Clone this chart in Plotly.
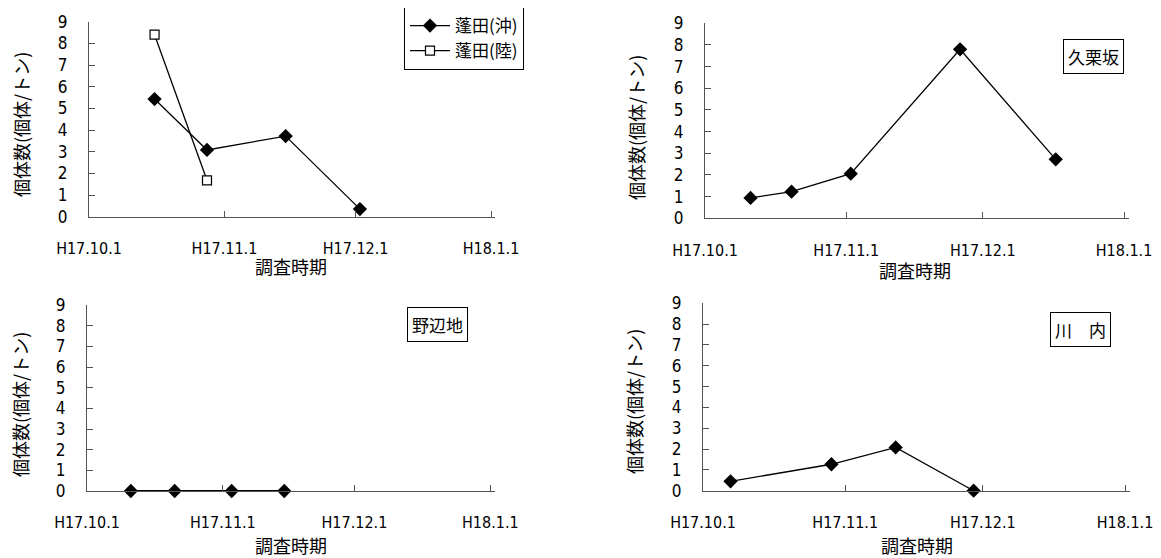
import plotly.graph_objects as go

# ---- data ----
tick_dates = ["2005-10-01", "2005-11-01", "2005-12-01", "2006-01-01"]
tick_labels = ["H17.10.1", "H17.11.1", "H17.12.1", "H18.1.1"]
y_ticks = [0, 1, 2, 3, 4, 5, 6, 7, 8, 9]

oki_dates = ["2005-10-16", "2005-10-28", "2005-11-15", "2005-12-02"]
oki_vals = [5.43, 3.08, 3.72, 0.35]
riku_dates = ["2005-10-16", "2005-10-28"]
riku_vals = [8.4, 1.68]
kuri_dates = ["2005-10-11", "2005-10-20", "2005-11-02", "2005-11-26", "2005-12-17"]
kuri_vals = [0.94, 1.23, 2.06, 7.8, 2.72]
nohe_dates = ["2005-10-11", "2005-10-21", "2005-11-03", "2005-11-15"]
nohe_vals = [0, 0, 0, 0]
kawa_dates = ["2005-10-07", "2005-10-29", "2005-11-12", "2005-11-29"]
kawa_vals = [0.45, 1.27, 2.08, 0]

x_title = "調査時期"
y_title = "個体数(個体/トン)"
site_labels = ["久栗坂", "野辺地", "川　内"]
legend_names = ["蓬田(沖)", "蓬田(陸)"]

W, H = 1161, 558
OFF = 8  # page body margin
NUM_FONT = "Liberation Sans Narrow, DejaVu Sans Condensed, Arial, sans-serif"
JP_FONT = "Noto Sans CJK JP, sans-serif"
AX_COLOR = "#555555"


def px_x(p):
    return (p - OFF) / W


def px_y(p):
    return 1 - (p - OFF) / H


fig = go.Figure()

diamond = dict(symbol="diamond", size=11, color="black")
line_style = dict(color="black", width=1.3)

fig.add_trace(go.Scatter(x=oki_dates, y=oki_vals, mode="lines+markers", name=legend_names[0],
                         marker=diamond, line=line_style, xaxis="x", yaxis="y"))
fig.add_trace(go.Scatter(x=riku_dates, y=riku_vals, mode="lines+markers", name=legend_names[1],
                         marker=dict(symbol="square", size=9, color="white",
                                     line=dict(color="black", width=1.2)),
                         line=line_style, xaxis="x", yaxis="y"))
fig.add_trace(go.Scatter(x=kuri_dates, y=kuri_vals, mode="lines+markers", showlegend=False,
                         marker=diamond, line=line_style, xaxis="x2", yaxis="y2"))
fig.add_trace(go.Scatter(x=nohe_dates, y=nohe_vals, mode="lines+markers", showlegend=False,
                         marker=diamond, line=dict(color="black", width=2), xaxis="x3", yaxis="y3"))
fig.add_trace(go.Scatter(x=kawa_dates, y=kawa_vals, mode="lines+markers", showlegend=False,
                         marker=diamond, line=line_style, xaxis="x4", yaxis="y4"))
for tr in fig.data:
    tr.cliponaxis = False

# panel geometry in pixels: (x_left, x_end, y_top, y_bottom)
panels = [
    (89, 495.4, 21.7, 216.7),
    (705, 1128.6, 23.3, 218.3),
    (87, 494.7, 305, 491),
    (703, 1129.6, 303.3, 490.7),
]

layout = dict(
    width=W, height=H, autosize=False,
    margin=dict(l=0, r=0, t=0, b=0, autoexpand=False),
    paper_bgcolor="white", plot_bgcolor="white",
    showlegend=True,
    legend=dict(x=px_x(404), y=px_y(7), xanchor="left", yanchor="top",
                bordercolor="black", borderwidth=1, bgcolor="white",
                font=dict(family=JP_FONT, size=17, color="black"),
                tracegroupgap=0, itemwidth=40),
)

annotations = []
for i, (xl, xe, yt, yb) in enumerate(panels):
    suf = "" if i == 0 else str(i + 1)
    layout["xaxis" + suf] = dict(
        type="date", domain=[px_x(xl), px_x(xe)],
        range=["2005-10-01", "2006-01-02"],
        tickvals=tick_dates, ticktext=tick_labels,
        ticks="inside", ticklen=6, tickcolor=AX_COLOR, tickwidth=1,
        showline=True, linecolor=AX_COLOR, linewidth=1,
        showgrid=False, zeroline=False, automargin=False,
        anchor="y" + suf, ticklabelstandoff=17,
        tickfont=dict(family=NUM_FONT, size=16, color="black"),
    )
    layout["yaxis" + suf] = dict(
        domain=[px_y(yb), px_y(yt)], range=[0, 9],
        tickvals=y_ticks, ticks="inside", ticklen=6, tickcolor=AX_COLOR, tickwidth=1,
        showline=True, linecolor=AX_COLOR, linewidth=1,
        showgrid=False, zeroline=False, automargin=False,
        anchor="x" + suf, ticklabelstandoff=17,
        tickfont=dict(family=NUM_FONT, size=17, color="black"),
    )

# axis titles
x_title_pos = [(291, 266), (915, 270), (291, 545), (917, 545)]
y_title_pos = [(21, 125), (636, 127), (20, 405), (634, 402)]
for (xp, yp) in x_title_pos:
    annotations.append(dict(text=x_title, x=px_x(xp), y=px_y(yp), xref="paper", yref="paper",
                            xanchor="center", yanchor="middle", showarrow=False,
                            font=dict(family=JP_FONT, size=18, color="black")))
for (xp, yp) in y_title_pos:
    annotations.append(dict(text=y_title, x=px_x(xp), y=px_y(yp), xref="paper", yref="paper",
                            xanchor="center", yanchor="middle", showarrow=False, textangle=-90,
                            font=dict(family=JP_FONT, size=18, color="black")))

# site label boxes
box_pos = [(1093.5, 56.5), (437, 324), (1080.5, 329)]
for lbl, (xp, yp) in zip(site_labels, box_pos):
    annotations.append(dict(text=lbl, x=px_x(xp), y=px_y(yp), xref="paper", yref="paper",
                            xanchor="center", yanchor="middle", showarrow=False,
                            bordercolor="black", borderwidth=1, borderpad=4, bgcolor="white",
                            font=dict(family=JP_FONT, size=17, color="black")))

layout["annotations"] = annotations
fig.update_layout(**layout)
fig.write_html("out.html")
